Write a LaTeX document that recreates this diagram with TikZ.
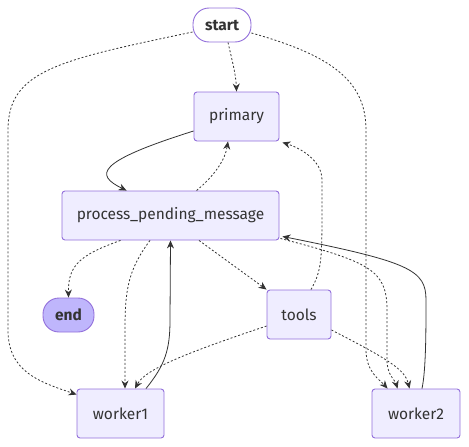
\documentclass[tikz,border=0pt]{standalone}
\usepackage{fontspec}
\setmainfont{Fira Sans}
\usepackage{tikz}
\usetikzlibrary{arrows.meta}

\definecolor{nodefill}{HTML}{EFEDFF}
\definecolor{nodeline}{HTML}{9370DB}
\definecolor{endfill}{HTML}{BFB6FC}
\definecolor{inkgrey}{HTML}{333333}

\tikzset{
    box/.style={draw=nodeline, fill=nodefill, line width=0.9pt, rounded corners=3pt,
        minimum height=49pt, inner sep=0pt, text=inkgrey, font=\fontsize{15.5}{17}\selectfont},
    terminal/.style={box, minimum height=34pt, rounded corners=16pt, font=\fontsize{15.5}{17}\selectfont\bfseries},
    flow/.style={->, draw=inkgrey, line width=0.8pt},
    cond/.style={flow, dash pattern=on 2pt off 2pt},
}

\begin{document}
\begin{tikzpicture}[x=1pt, y=-1pt, >={Stealth[length=8pt,width=7pt]}]
    \useasboundingbox (0,0) rectangle (469,447);

    % nodes
    \node[terminal, fill=white, minimum width=58pt] (start) at (222,25) {start};
    \node[box, minimum width=85pt] (primary) at (236.5,116.5) {primary};
    \node[box, minimum width=217pt] (ppm) at (170.5,215.5) {process\_pending\_message};
    \node[terminal, fill=endfill, minimum width=51pt] (end) at (68.5,315) {end};
    \node[box, minimum width=64pt] (tools) at (299,314.5) {tools};
    \node[box, minimum width=87pt] (worker1) at (120.5,413.5) {worker1};
    \node[box, minimum width=88pt] (worker2) at (416,413.5) {worker2};

    % edges out of start
    \draw[cond] ([xshift=6pt]start.south) .. controls (232,60) and (236,75) .. (primary.north);
    \draw[cond] ([yshift=-7pt]start.west) .. controls (60,60) and (8,70) .. (8,130)
        -- (8,330) .. controls (8,372) and (40,382) .. ([yshift=-6pt]worker1.north west);
    \draw[cond] ([yshift=-8pt]start.east) .. controls (330,55) and (366,80) .. (366,130)
        -- (366,350) .. controls (366,372) and (380,380) .. ([xshift=16pt]worker2.north west);

    % primary <-> process_pending_message
    \draw[flow] ([yshift=-14.5pt]primary.west) .. controls (95,162) and (95,175) .. ([xshift=65pt]ppm.north west);
    \draw[cond] ([xshift=135pt]ppm.north west) .. controls (215,175) and (225,160) .. ([xshift=-8.5pt]primary.south);
    \draw[cond] ([xshift=12pt]tools.north) .. controls (322,270) and (322,260) .. (322,200)
        -- (322,180) .. controls (322,160) and (300,148) .. ([xshift=3pt,yshift=-1pt]primary.south east);

    % edges out of process_pending_message
    \draw[cond] ([xshift=-50pt]ppm.south) .. controls (80,255) and (68,265) .. (end.north);
    \draw[cond] ([xshift=-20.5pt]ppm.south) .. controls (128,270) and (125,290) .. (125,330)
        -- ([xshift=4.5pt]worker1.north);
    \draw[cond] ([xshift=28.5pt]ppm.south) -- (tools.north west);
    \draw[cond] ([xshift=1pt,yshift=2pt]ppm.south east) .. controls (370,262) and (387,270) .. (387,310)
        -- (387,360) .. controls (387,375) and (395,380) .. ([xshift=26pt]worker2.north west);

    % back to process_pending_message
    \draw[flow] ([xshift=25.5pt]worker1.north) .. controls (165,365) and (170,350) .. (170,320)
        -- (ppm.south);
    \draw[flow] ([xshift=6pt]worker2.north) .. controls (426,370) and (426,330) .. (426,300)
        .. controls (426,270) and (410,262) .. ([xshift=3pt,yshift=4pt]ppm.south east);

    % edges out of tools
    \draw[cond] ([yshift=-11.5pt]tools.west) .. controls (180,355) and (145,370) .. ([xshift=14.5pt]worker1.north);
    \draw[cond] ([yshift=-15.5pt]tools.east) .. controls (390,360) and (405,370) .. ([xshift=38pt]worker2.north west);
\end{tikzpicture}
\end{document}
